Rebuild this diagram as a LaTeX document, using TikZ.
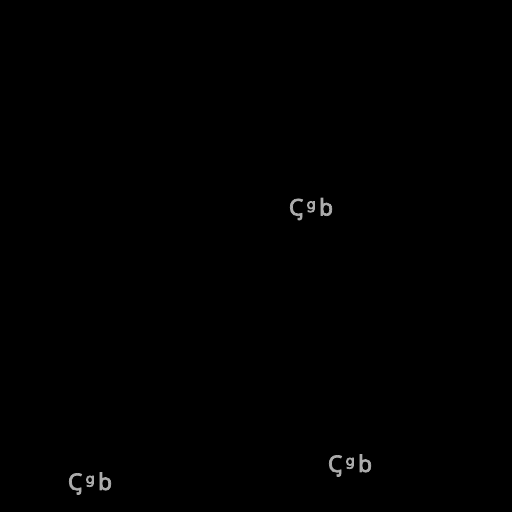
\documentclass[tikz,border=0pt]{standalone}
\usepackage{fontspec}
\usepackage{tikz}
\newfontfamily\lblfont[AutoFakeBold=3,LetterSpace=14]{Noto Sans}
\definecolor{lblgray}{RGB}{172,172,172}
\tikzset{%
    lbl/.style={text=lblgray,inner sep=0pt,anchor=base,font=\lblfont\bfseries\fontsize{23}{26}\selectfont}
}

\begin{document}
\begin{tikzpicture}[
        x=1pt, y=1pt
        ]
        \fill[black] (0,0) rectangle (512,512);

        \node[lbl] (w1) at (311,296.5){Ꞔᵍb};
        \node[lbl] (w2) at (90,22){Ꞔᵍb};
        \node[lbl] (w3) at (350,40){Ꞔᵍb};
    \end{tikzpicture}
\end{document}
